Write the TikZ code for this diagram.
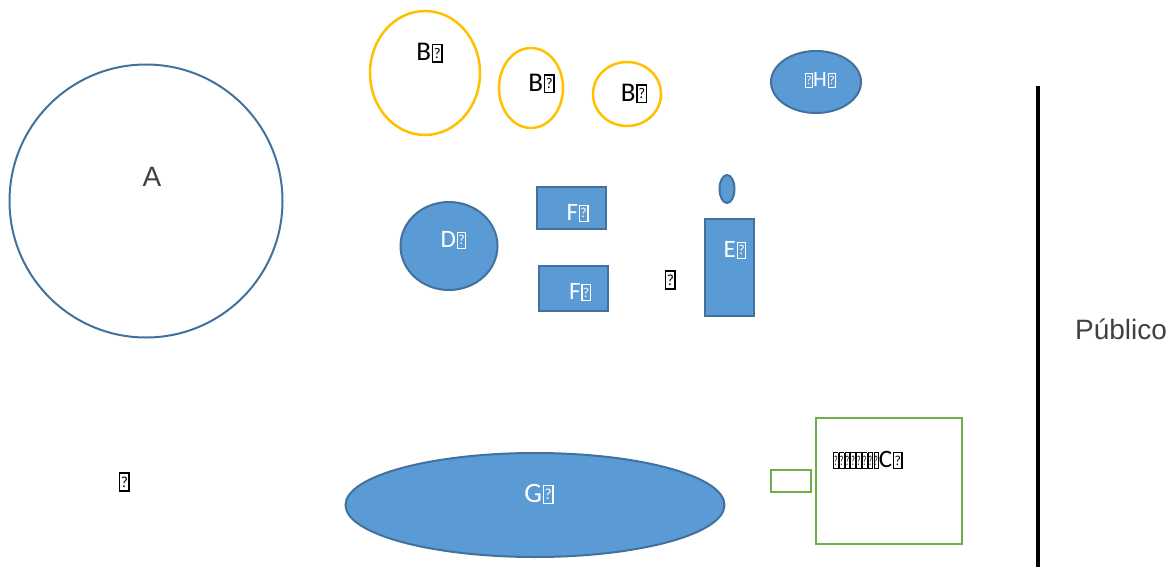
\documentclass[tikz,border=0pt]{standalone}
\usepackage{fontspec}
\usepackage{graphicx}
\setmainfont{Liberation Sans}
\newfontfamily\carlitofont{Carlito}
\usetikzlibrary{shapes.geometric}
\definecolor{bfill}{HTML}{5B9BD5}
\definecolor{bline}{HTML}{41719C}
\definecolor{yel}{HTML}{FFC000}
\definecolor{grn}{HTML}{70AD47}
\definecolor{txtgray}{HTML}{404040}
\newcommand\tofu{{\hspace{0.03em}\fboxsep=0.02em\fboxrule=0.05em\fbox{\makebox[0.25em]{\rule{0pt}{0.55em}\raisebox{0.09em}{\scalebox{0.55}{?}}}}}}
\tikzset{
  shp/.style={inner sep=0pt, outer sep=0pt},
  blueell/.style={shp, ellipse, draw=bline, fill=bfill, line width=2pt},
  bluerect/.style={shp, rectangle, draw=bline, fill=bfill, line width=2pt},
  yelell/.style={shp, ellipse, draw=yel, line width=2.5pt},
  grnrect/.style={shp, rectangle, draw=grn, line width=2pt},
  wlab/.style={inner sep=0pt, text=white, font=\carlitofont\fontsize{25}{27}\selectfont},
  klab/.style={inner sep=0pt, text=black, font=\carlitofont\fontsize{27}{29}\selectfont},
}
\begin{document}
\begin{tikzpicture}[x=1pt,y=-1pt]
\useasboundingbox (0,0) rectangle (1174,567);
% A
\node[shp, circle, draw=bline, line width=2pt, minimum size=273pt] (A) at (146,201) {};
\node[inner sep=0pt, font=\fontsize{28}{30}\selectfont, text=txtgray] (Alab) at (152,177) {A};
% B ellipses
\node[yelell, minimum width=110pt, minimum height=124pt] (B1) at (425,73) {};
\node[klab] (B1lab) at (429.5,53) {B\tofu};
\node[yelell, minimum width=64pt, minimum height=80pt] (B2) at (531,88) {};
\node[klab] (B2lab) at (541.5,83.5) {B\tofu};
\node[yelell, minimum width=68pt, minimum height=64pt] (B3) at (627,94) {};
\node[klab] (B3lab) at (634,93.5) {B\tofu};
% H
\node[blueell, minimum width=90pt, minimum height=62pt] (H) at (816,82) {};
\node[wlab, font=\carlitofont\fontsize{22}{24}\selectfont] (Hlab) at (820,80) {\tofu H\tofu};
% D
\node[blueell, minimum width=97pt, minimum height=88pt] (D) at (449,246) {};
\node[wlab] (Dlab) at (453.5,240) {D\tofu};
% F
\node[bluerect, minimum width=69pt, minimum height=42pt] (F1) at (571.5,208) {};
\node[wlab] (F1lab) at (577.5,213) {F\tofu};
\node[bluerect, minimum width=69pt, minimum height=45pt] (F2) at (573.5,288.5) {};
\node[wlab] (F2lab) at (580,292.5) {F\tofu};
% small ellipse and E
\node[blueell, minimum width=15pt, minimum height=28pt] (S) at (727,189) {};
\node[bluerect, minimum width=49pt, minimum height=97pt] (E) at (729.5,267.5) {};
\node[wlab] (Elab) at (735,250) {E\tofu};
% loose tofus
\node[klab, font=\carlitofont\fontsize{28}{30}\selectfont] (T1) at (670,280) {\tofu};
\node[klab, font=\carlitofont\fontsize{28}{30}\selectfont] (T2) at (124,482) {\tofu};
% G
\node[blueell, minimum width=379pt, minimum height=104pt] (G) at (535,505) {};
\node[wlab, font=\carlitofont\fontsize{28}{30}\selectfont] (Glab) at (539,494) {G\tofu};
% green rects
\node[grnrect, minimum width=40pt, minimum height=22pt] (g1) at (791,481) {};
\node[grnrect, minimum width=146pt, minimum height=126pt] (g2) at (889,481) {};
\node[klab, anchor=west, font=\carlitofont\fontsize{25}{27}\selectfont] (Clab) at (832.5,460.5) {\scalebox{0.55}[1]{\tofu\tofu\tofu\tofu\tofu\tofu\tofu\tofu}C\tofu};
% line and Publico
\coordinate (L1) at (1038,86);
\coordinate (L2) at (1038,567);
\draw[line width=4pt, black] (L1) -- (L2);
\node[inner sep=0pt, font=\fontsize{28}{30}\selectfont, text=txtgray] (P) at (1121,329) {Público};
\end{tikzpicture}
\end{document}
